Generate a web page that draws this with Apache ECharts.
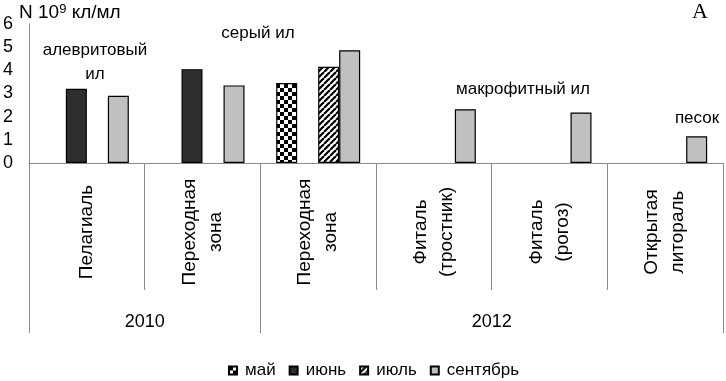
<!DOCTYPE html>
<html>
<head>
<meta charset="utf-8">
<script src="https://cdn.jsdelivr.net/npm/echarts@6/dist/echarts.min.js"></script>
<style>
  html, body { margin: 0; padding: 0; background: #fff; }
  #chart { width: 726px; height: 381px; }
</style>
</head>
<body>
<div id="chart"></div>
<script>
// участки отбора проб
var categories = ['Пелагиаль', 'Переходная\nзона', 'Переходная\nзона', 'Фиталь\n(тростник)', 'Фиталь\n(рогоз)', 'Открытая\nлитораль'];
// годы (второй ряд подписей, по границам участков)
var yearLabels = ['', '2010', '', '', '2012', '', ''];
var yearBounds = [0, 2, 6];

var monthNames = ['май', 'июнь', 'июль', 'сентябрь'];
var may = [null, null, 3.45, null, null, null];
var june = [3.2, 4.05, null, null, null, null];
var july = [null, null, 4.15, null, null, null];
var sept = [2.9, 3.35, 4.87, 2.32, 2.18, 1.15];

var yTicks = [0, 1, 2, 3, 4, 5, 6];

// подписи грунтов
var notes = [
    { text: 'алевритовый', x: 95, y: 50 },
    { text: 'ил', x: 95, y: 74 },
    { text: 'серый ил', x: 258, y: 33 },
    { text: 'макрофитный ил', x: 523, y: 89 },
    { text: 'песок', x: 697, y: 118 }
];

// штриховки
function checker() {
    var c = document.createElement('canvas');
    c.width = 8; c.height = 8;
    var ctx = c.getContext('2d');
    ctx.fillStyle = '#fff';
    ctx.fillRect(0, 0, 8, 8);
    ctx.fillStyle = '#000';
    ctx.fillRect(0, 0, 4, 4);
    ctx.fillRect(4, 4, 4, 4);
    return c;
}
function stripes() {
    var s = 6;
    var c = document.createElement('canvas');
    c.width = s; c.height = s;
    var ctx = c.getContext('2d');
    ctx.fillStyle = '#fff';
    ctx.fillRect(0, 0, s, s);
    ctx.strokeStyle = '#000';
    ctx.lineWidth = 2.2;
    for (var k = -1; k <= 1; k++) {
        ctx.beginPath();
        ctx.moveTo(k * s, s);
        ctx.lineTo(k * s + s, 0);
        ctx.stroke();
    }
    return c;
}

var chart = echarts.init(document.getElementById('chart'));
var font = '"Liberation Sans", Arial, sans-serif';
var axisGray = '#8a8a8a';

function bar(name, data, color) {
    return {
        name: name,
        type: 'bar',
        data: data,
        barWidth: 21,
        barGap: '0%',
        itemStyle: { color: color, borderColor: '#000', borderWidth: 1.2 }
    };
}

var graphics = notes.map(function (n) {
    return {
        type: 'text', x: n.x, y: n.y,
        style: { text: n.text, font: '17px ' + font, fill: '#000', textAlign: 'center', textVerticalAlign: 'middle' }
    };
});
graphics.push({
    type: 'text', x: 19, y: 3,
    style: {
        text: 'N 10{sup|9} кл/мл', font: '19px ' + font, fill: '#000',
        rich: { sup: { fontSize: 13, verticalAlign: 'top', padding: [0, 0, 6, 0], fontFamily: font } }
    }
});
graphics.push({
    type: 'text', x: 700, y: 12,
    style: { text: 'A', font: '22px "Liberation Serif", serif', fill: '#000', textAlign: 'center', textVerticalAlign: 'middle' }
});

chart.setOption({
    animation: false,
    textStyle: { fontFamily: font, color: '#000' },
    grid: { left: 26, right: 2, top: 24, bottom: 218 },
    legend: {
        data: monthNames,
        left: 223,
        top: 357,
        icon: 'rect',
        itemWidth: 8,
        itemHeight: 8,
        itemGap: 13,
        textStyle: { fontSize: 17, color: '#000', padding: [0, 0, 0, 3] }
    },
    xAxis: [{
        type: 'category',
        data: categories,
        axisLine: { show: true, lineStyle: { color: axisGray } },
        axisTick: { show: true, length: 127, interval: 0, alignWithLabel: false, lineStyle: { color: axisGray } },
        axisLabel: {
            interval: 0, rotate: 90, align: 'center', margin: 69,
            fontSize: 19, lineHeight: 26, color: '#000'
        }
    }, {
        type: 'category',
        data: yearLabels,
        boundaryGap: false,
        position: 'bottom',
        axisLine: { show: false },
        axisTick: {
            show: true,
            length: 170,
            interval: function (i) { return yearBounds.indexOf(i) >= 0; },
            lineStyle: { color: axisGray }
        },
        axisLabel: { interval: 0, margin: 150, fontSize: 18, color: '#000' }
    }],
    yAxis: {
        type: 'value',
        min: yTicks[0],
        max: yTicks[yTicks.length - 1],
        interval: 1,
        axisLine: { show: true, lineStyle: { color: axisGray } },
        axisTick: { show: false },
        splitLine: { show: false },
        axisLabel: { fontSize: 18, margin: 16, color: '#000' }
    },
    graphic: graphics,
    series: [
        bar(monthNames[0], may, { image: checker(), repeat: 'repeat' }),
        bar(monthNames[1], june, '#2e2e2e'),
        bar(monthNames[2], july, { image: stripes(), repeat: 'repeat' }),
        bar(monthNames[3], sept, '#c0c0c0')
    ]
});
</script>
</body>
</html>
